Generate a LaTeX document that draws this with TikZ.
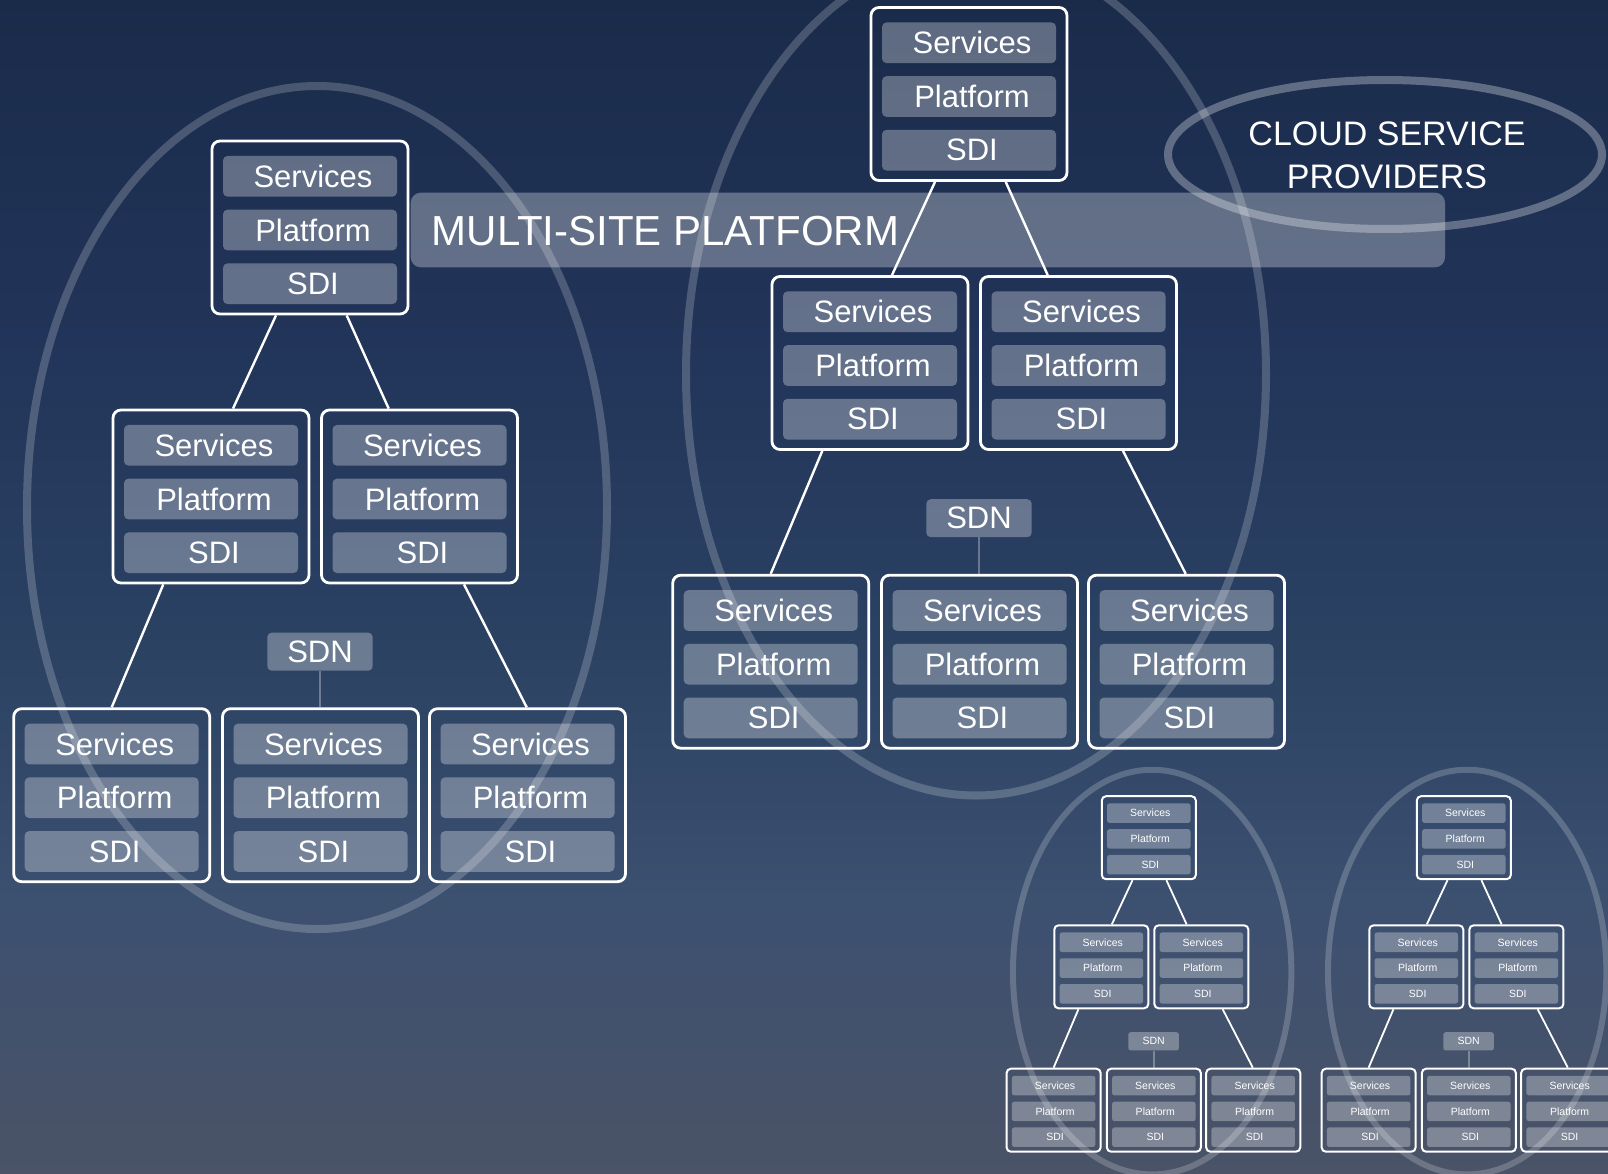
\documentclass[tikz,border=0pt]{standalone}
\usepackage{fontspec}
\setmainfont{Liberation Sans}
\definecolor{bgA}{RGB}{26,43,74}
\definecolor{bgB}{RGB}{34,53,90}
\definecolor{bgC}{RGB}{43,66,99}
\definecolor{bgD}{RGB}{60,80,112}
\definecolor{bgE}{RGB}{74,83,103}
\pgfdeclareverticalshading{bgsh}{100bp}{color(0bp)=(bgE); color(25bp)=(bgE); color(36.67bp)=(bgD); color(47.3bp)=(bgC); color(59.67bp)=(bgB); color(75bp)=(bgA); color(100bp)=(bgA)}

\tikzset{
 boxst/.style={draw=white, inner sep=0pt},
 barst/.style={fill=white, fill opacity=0.3, text opacity=1, text=white, inner sep=0pt},
 conn/.style={draw=white},
 sdnline/.style={draw=white, draw opacity=0.3},
 ellst/.style={draw=white, draw opacity=0.2},
 txt/.style={text=white, inner sep=0pt},
}

% #1 name, #2 x, #3 y (down), #4 scale, #5 font size, #6 box line width
\newcommand\mystack[6]{%
 \pgfmathsetmacro\kk{6*#4}%
 \node[boxst, line width=#6, rounded corners={7*#4+1}, minimum width={196*#4}, minimum height={173*#4}] (#1) at ({#2},{-(#3)}) {};
 \node[barst, rounded corners={4*#4+0.5}, minimum width={174*#4}, minimum height={40.7*#4}, font=\fontsize{#5}{#5}\selectfont] (#1s) at ([yshift={51.2*#4}]#1.center) {\kern\kk pt Services};
 \node[barst, rounded corners={4*#4+0.5}, minimum width={174*#4}, minimum height={40.7*#4}, font=\fontsize{#5}{#5}\selectfont] (#1p) at ([yshift={-2.5*#4}]#1.center) {\kern\kk pt Platform};
 \node[barst, rounded corners={4*#4+0.5}, minimum width={174*#4}, minimum height={40.7*#4}, font=\fontsize{#5}{#5}\selectfont] (#1d) at ([yshift={-56.2*#4}]#1.center) {\kern\kk pt SDI};
}

% #1 prefix, #2 x, #3 y, #4 s, #5 font, #6 box lw, #7 conn lw, #8 ellipse lw
\newcommand\mycluster[8]{%
 \mystack{#1T}{#2}{#3}{#4}{#5}{#6}
 \mystack{#1ML}{#2-99*#4}{#3+269*#4}{#4}{#5}{#6}
 \mystack{#1MR}{#2+109.5*#4}{#3+269*#4}{#4}{#5}{#6}
 \mystack{#1BL}{#2-198.3*#4}{#3+567.7*#4}{#4}{#5}{#6}
 \mystack{#1BM}{#2+10.5*#4}{#3+567.7*#4}{#4}{#5}{#6}
 \mystack{#1BR}{#2+217.5*#4}{#3+567.7*#4}{#4}{#5}{#6}
 \node[barst, rounded corners={4*#4+0.5}, minimum width={105.4*#4}, minimum height={38*#4}, font=\fontsize{#5}{#5}\selectfont] (#1N) at ({#2+10*#4},{-(#3+424.2*#4)}) {SDN};
 \draw[conn, line width=#7] ([xshift={-34*#4}]#1T.south) -- ([xshift={22*#4}]#1ML.north);
 \draw[conn, line width=#7] ([xshift={36.7*#4}]#1T.south) -- ([xshift={-30.8*#4}]#1MR.north);
 \draw[conn, line width=#7] ([xshift={-47.7*#4}]#1ML.south) -- (#1BL.north);
 \draw[conn, line width=#7] ([xshift={44.5*#4}]#1MR.south) -- ([xshift={-0.8*#4}]#1BR.north);
 \draw[sdnline, line width=#7] (#1N.south) -- (#1N.south |- #1BM.north);
 \draw[ellst, line width=#8] ({#2+7*#4},{-(#3+280*#4)}) ellipse [x radius={290*#4}, y radius={421.5*#4}];
}

\begin{document}
\begin{tikzpicture}[x=1pt,y=1pt]
\useasboundingbox (0,0) rectangle (1608,-1174);
\begin{scope}
\clip (0,0) rectangle (1608,-1174);
\shade[shading=bgsh] (0,0) rectangle (1608,-1174);

\node[fill=white, fill opacity=0.3, rounded corners=10, minimum width=1034.3, minimum height=74.6, inner sep=0pt] (banner) at (927.85,-230) {};

\mycluster{L}{310}{227.5}{1}{31}{2.8}{2.4}{8}
\mycluster{R}{969}{94}{1}{31}{2.8}{2.4}{8}
\mycluster{S}{1148.8}{837.7}{0.48}{10.5}{2}{1.8}{6}
\mycluster{Q}{1463.8}{837.7}{0.48}{10.5}{2}{1.8}{6}

\draw[draw=white, draw opacity=0.3, line width=8] (1385,-154.5) ellipse [x radius=217, y radius=74.5];

\node[txt, anchor=base west, font=\fontsize{42}{42}\selectfont] (bannertext) at (431.5,-246) {MULTI-SITE PLATFORM};
\node[txt, anchor=base, font=\fontsize{34}{34}\selectfont] (cloud1) at (1387,-146) {CLOUD SERVICE};
\node[txt, anchor=base, font=\fontsize{34}{34}\selectfont] (cloud2) at (1387,-189) {PROVIDERS};
\end{scope}
\end{tikzpicture}
\end{document}
